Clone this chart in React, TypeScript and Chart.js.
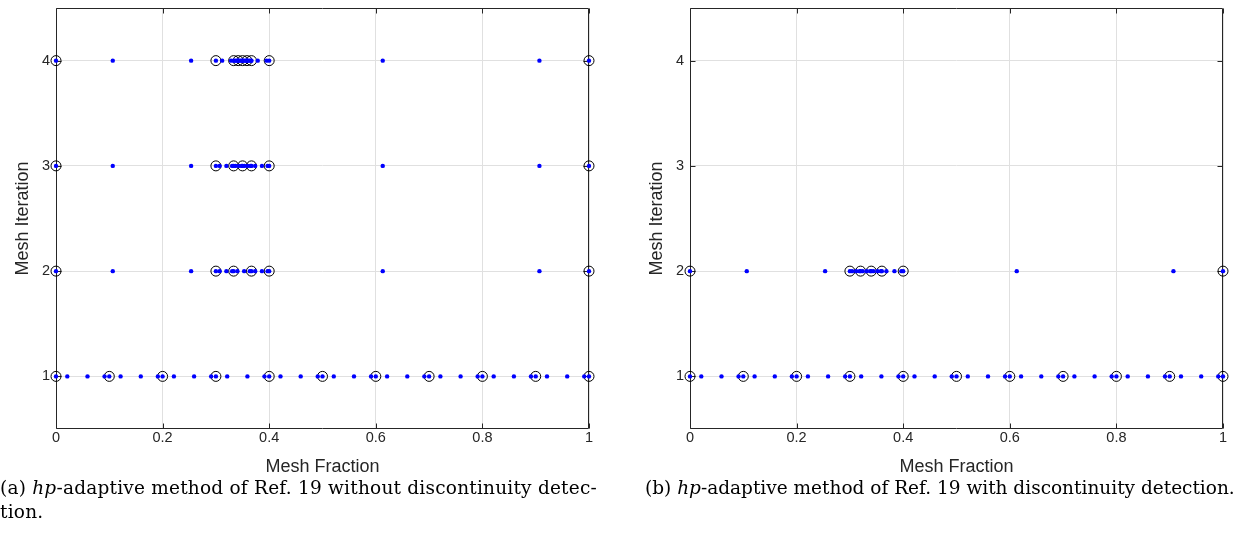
import React, { useEffect, useRef } from "react";
import { Chart, registerables } from "chart.js";

Chart.register(...registerables);

// ---------- data ----------
const xTickValues = [0, 0.2, 0.4, 0.6, 0.8, 1];
const yTickValues = [1, 2, 3, 4];

// (a) without discontinuity detection
const aIter1Mesh = [0, 0.1, 0.2, 0.3, 0.4, 0.5, 0.6, 0.7, 0.8, 0.9, 1];
const aIter1Nodes = [
  0, 0.0212, 0.0591, 0.0911, 0.1, 0.1212, 0.1591, 0.1911, 0.2, 0.2212, 0.2591, 0.2911,
  0.3, 0.3212, 0.3591, 0.3911, 0.4, 0.4212, 0.4591, 0.4911, 0.5, 0.5212, 0.5591, 0.5911,
  0.6, 0.6212, 0.6591, 0.6911, 0.7, 0.7212, 0.7591, 0.7911, 0.8, 0.8212, 0.8591, 0.8911,
  0.9, 0.9212, 0.9591, 0.9911, 1,
];
const aIter2Mesh = [0, 0.3, 0.3333, 0.3667, 0.4, 1];
const aIter2Nodes = [
  0, 0.1065, 0.2535, 0.3, 0.3071, 0.3197, 0.3304, 0.3333, 0.3404, 0.353, 0.3637,
  0.3667, 0.3737, 0.3864, 0.397, 0.4, 0.613, 0.907, 1,
];
const aIter3Mesh = [0, 0.3, 0.3333, 0.35, 0.3667, 0.4, 1];
const aIter3Nodes = [
  0, 0.1065, 0.2535, 0.3, 0.3071, 0.3197, 0.3304, 0.3333, 0.3369, 0.3432, 0.3485,
  0.35, 0.3535, 0.3598, 0.3652, 0.3667, 0.3737, 0.3864, 0.397, 0.4, 0.613, 0.907, 1,
];
const aIter4Mesh = [0, 0.3, 0.3333, 0.3417, 0.35, 0.3583, 0.3667, 0.4, 1];
const aIter4Nodes = [
  0, 0.1065, 0.2535, 0.3, 0.3118, 0.3283, 0.3333, 0.3351, 0.3383, 0.3409, 0.3417,
  0.3434, 0.3466, 0.3493, 0.35, 0.3518, 0.3549, 0.3576, 0.3583, 0.3601, 0.3633,
  0.3659, 0.3667, 0.3785, 0.395, 0.4, 0.613, 0.907, 1,
];

// (b) with discontinuity detection
const bIter1Mesh = [0, 0.1, 0.2, 0.3, 0.4, 0.5, 0.6, 0.7, 0.8, 0.9, 1];
const bIter1Nodes = [
  0, 0.0212, 0.0591, 0.0911, 0.1, 0.1212, 0.1591, 0.1911, 0.2, 0.2212, 0.2591, 0.2911,
  0.3, 0.3212, 0.3591, 0.3911, 0.4, 0.4212, 0.4591, 0.4911, 0.5, 0.5212, 0.5591, 0.5911,
  0.6, 0.6212, 0.6591, 0.6911, 0.7, 0.7212, 0.7591, 0.7911, 0.8, 0.8212, 0.8591, 0.8911,
  0.9, 0.9212, 0.9591, 0.9911, 1,
];
const bIter2Mesh = [0, 0.3, 0.32, 0.34, 0.36, 0.4, 1];
const bIter2Nodes = [
  0, 0.1065, 0.2535, 0.3, 0.3042, 0.3118, 0.3182, 0.32, 0.3242, 0.3318, 0.3382,
  0.34, 0.3442, 0.3518, 0.3582, 0.36, 0.3685, 0.3836, 0.3965, 0.4, 0.613, 0.907, 1,
];

const captionA1 = "without discontinuity detec-";
const captionA2 = "tion.";
const captionB = "with discontinuity detection.";

// ---------- styling ----------
const SANS = "'Liberation Sans', Arial, Helvetica, sans-serif";
const SERIF = "'DejaVu Serif', 'Liberation Serif', serif";
const AXIS_COLOR = "#262626";
const GRID_COLOR = "#e0e0e0";

type Row = { iter: number; mesh: number[]; nodes: number[] };

const boxPlugin = {
  id: "matlabBox",
  beforeDatasetsDraw(chart: any) {
    const { ctx, chartArea, scales } = chart;
    const L = Math.round(chartArea.left) + 0.5;
    const R = Math.round(chartArea.right) - 0.5;
    const T = Math.round(chartArea.top) + 0.5;
    const B = Math.round(chartArea.bottom) - 0.5;
    const tl = 5;
    ctx.save();
    ctx.strokeStyle = AXIS_COLOR;
    ctx.lineWidth = 1;
    ctx.beginPath();
    ctx.rect(L, T, R - L, B - T);
    for (const t of scales.x.ticks) {
      const px = Math.round(scales.x.getPixelForValue(t.value)) + 0.5;
      ctx.moveTo(px, B);
      ctx.lineTo(px, B - tl);
      ctx.moveTo(px, T);
      ctx.lineTo(px, T + tl);
    }
    for (const t of scales.y.ticks) {
      const py = Math.round(scales.y.getPixelForValue(t.value)) + 0.5;
      ctx.moveTo(L, py);
      ctx.lineTo(L + tl, py);
      ctx.moveTo(R, py);
      ctx.lineTo(R - tl, py);
    }
    ctx.stroke();
    ctx.restore();
  },
};

function makeConfig(rows: Row[], rightPad: number): any {
  const nodePts = rows.flatMap((r) => r.nodes.map((x) => ({ x, y: r.iter })));
  const meshPts = rows.flatMap((r) => r.mesh.map((x) => ({ x, y: r.iter })));
  return {
    type: "scatter",
    data: {
      datasets: [
        {
          label: "nodes",
          data: nodePts,
          pointRadius: 2.2,
          pointBackgroundColor: "#0000ff",
          pointBorderWidth: 0,
          clip: false,
          order: 0,
        },
        {
          label: "mesh",
          data: meshPts,
          pointRadius: 5,
          pointBackgroundColor: "rgba(0,0,0,0)",
          pointBorderColor: "#000000",
          pointBorderWidth: 1,
          clip: false,
          order: 1,
        },
      ],
    },
    options: {
      responsive: false,
      animation: false,
      events: [],
      layout: { padding: { left: 0, top: 8, right: rightPad, bottom: 2 } },
      plugins: { legend: { display: false }, tooltip: { enabled: false } },
      scales: {
        x: {
          type: "linear",
          min: 0,
          max: 1,
          afterBuildTicks: (s: any) => {
            s.ticks = xTickValues.map((v) => ({ value: v }));
          },
          afterFit: (s: any) => {
            s.height = 49;
            s.paddingLeft = 0;
            s.paddingRight = 0;
          },
          grid: { color: GRID_COLOR, drawTicks: false, lineWidth: 1 },
          border: { display: false },
          ticks: {
            padding: 0,
            color: AXIS_COLOR,
            font: { family: SANS, size: 14.5 },
            maxRotation: 0,
            autoSkip: false,
            callback: (v: any) => String(Math.round(v * 10) / 10),
          },
          title: {
            display: true,
            text: "Mesh Fraction",
            color: AXIS_COLOR,
            font: { family: SANS, size: 18 },
            padding: 0,
          },
        },
        y: {
          type: "linear",
          min: 0.5,
          max: 4.5,
          afterBuildTicks: (s: any) => {
            s.ticks = yTickValues.map((v) => ({ value: v }));
          },
          afterFit: (s: any) => {
            s.width = 56;
            s.paddingTop = 0;
            s.paddingBottom = 0;
          },
          grid: { color: GRID_COLOR, drawTicks: false, lineWidth: 1 },
          border: { display: false },
          ticks: {
            padding: 6,
            color: AXIS_COLOR,
            font: { family: SANS, size: 14.5 },
            autoSkip: false,
            callback: (v: any) => String(v),
          },
          title: {
            display: true,
            text: "Mesh Iteration",
            color: AXIS_COLOR,
            font: { family: SANS, size: 18 },
            padding: { top: 12, bottom: 0 },
          },
        },
      },
    },
    plugins: [boxPlugin],
  };
}

function Plot({ rows, left, width, rightPad }: { rows: Row[]; left: number; width: number; rightPad: number }) {
  const ref = useRef<HTMLCanvasElement | null>(null);
  useEffect(() => {
    if (!ref.current) return;
    const chart = new Chart(ref.current, makeConfig(rows, rightPad));
    return () => chart.destroy();
  }, []);
  return (
    <canvas
      ref={ref}
      width={width}
      height={480}
      style={{ position: "absolute", left, top: 0, width, height: 480 }}
    />
  );
}

const captionStyle: React.CSSProperties = {
  position: "absolute",
  fontFamily: SERIF,
  fontSize: 18.5,
  lineHeight: "24px",
  color: "#000",
  whiteSpace: "nowrap",
};

export default function App() {
  const rowsA: Row[] = [
    { iter: 1, mesh: aIter1Mesh, nodes: aIter1Nodes },
    { iter: 2, mesh: aIter2Mesh, nodes: aIter2Nodes },
    { iter: 3, mesh: aIter3Mesh, nodes: aIter3Nodes },
    { iter: 4, mesh: aIter4Mesh, nodes: aIter4Nodes },
  ];
  const rowsB: Row[] = [
    { iter: 1, mesh: bIter1Mesh, nodes: bIter1Nodes },
    { iter: 2, mesh: bIter2Mesh, nodes: bIter2Nodes },
  ];
  return (
    <div
      style={{
        position: "fixed",
        left: 0,
        top: 0,
        width: 1233,
        height: 540,
        background: "#fff",
        overflow: "hidden",
      }}
    >
      <Plot rows={rowsA} left={0} width={610} rightPad={21} />
      <Plot rows={rowsB} left={634} width={599} rightPad={10} />
      <div style={{ ...captionStyle, left: 0, top: 476, letterSpacing: "0.22px" }}>
        (a) <i>hp</i>-adaptive method of Ref. 19 {captionA1}
        <br />
        {captionA2}
      </div>
      <div style={{ ...captionStyle, left: 645, top: 476 }}>
        (b) <i>hp</i>-adaptive method of Ref. 19 {captionB}
      </div>
    </div>
  );
}
